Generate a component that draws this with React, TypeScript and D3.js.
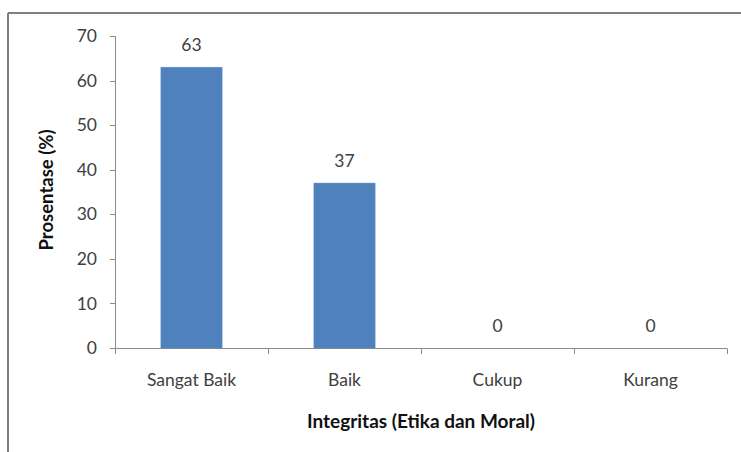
import { useEffect, useRef } from "react"
import * as d3 from "d3"

const categories = ["Sangat Baik", "Baik", "Cukup", "Kurang"]
const values = [63, 37, 0, 0]
const yTicks = [0, 10, 20, 30, 40, 50, 60, 70]

const W = 741
const H = 452
const FONT = "Lato, 'Open Sans', sans-serif"

const App = () => {
  const ref = useRef<SVGSVGElement>(null)

  useEffect(() => {
    if (!ref.current) return
    const svg = d3.select(ref.current)
    svg.selectAll("*").remove()

    // chart frame (top and left edges visible)
    svg.append("line").attr("x1", 8).attr("x2", W).attr("y1", 13).attr("y2", 13)
      .attr("stroke", "#7f7f7f").attr("stroke-width", 2)
    svg.append("line").attr("x1", 8).attr("x2", 8).attr("y1", 13).attr("y2", H)
      .attr("stroke", "#7f7f7f").attr("stroke-width", 2)

    const x = d3.scaleBand().domain(categories).range([115, 727]).paddingInner(0).paddingOuter(0)
    const y = d3.scaleLinear().domain([0, 70]).range([348, 36])

    const axisColor = "#898989"
    const textColor = "#404040"
    const fs = 17.5

    // y axis
    svg.append("line").attr("x1", 115.5).attr("x2", 115.5).attr("y1", y(70)).attr("y2", y(0))
      .attr("stroke", axisColor)
    const yt = svg.append("g")
    yTicks.forEach((t) => {
      yt.append("line").attr("x1", 110).attr("x2", 115.5)
        .attr("y1", Math.round(y(t)) + 0.5).attr("y2", Math.round(y(t)) + 0.5)
        .attr("stroke", axisColor)
      yt.append("text").attr("x", 97).attr("y", y(t)).attr("dy", "0.35em")
        .attr("text-anchor", "end").attr("font-family", FONT).attr("font-size", fs)
        .attr("fill", textColor).text(String(t))
    })

    // x axis
    svg.append("line").attr("x1", 115).attr("x2", 727).attr("y1", 348.5).attr("y2", 348.5)
      .attr("stroke", axisColor)
    const bounds = categories.map((c) => x(c) as number).concat([727])
    bounds.forEach((b) => {
      svg.append("line").attr("x1", b + 0.5).attr("x2", b + 0.5).attr("y1", 348.5).attr("y2", 354)
        .attr("stroke", axisColor)
    })

    const barW = x.bandwidth() * 0.4
    categories.forEach((c, i) => {
      const cx = (x(c) as number) + x.bandwidth() / 2
      if (values[i] > 0) {
        svg.append("rect").attr("x", cx - barW / 2).attr("y", y(values[i]))
          .attr("width", barW).attr("height", y(0) - y(values[i]))
          .attr("fill", "#4f81bd").attr("stroke", "#5b8cc7").attr("stroke-width", 0.5)
      }
      svg.append("text").attr("x", cx).attr("y", y(values[i]) - 22).attr("dy", "0.35em")
        .attr("text-anchor", "middle").attr("font-family", FONT).attr("font-size", fs)
        .attr("fill", textColor).text(String(values[i]))
      svg.append("text").attr("x", cx).attr("y", 380).attr("dy", "0.35em")
        .attr("text-anchor", "middle").attr("font-family", FONT).attr("font-size", fs)
        .attr("fill", textColor).text(c)
    })

    svg.append("text").attr("x", 421).attr("y", 421).attr("dy", "0.35em").attr("text-anchor", "middle")
      .attr("font-family", FONT).attr("font-size", 19).attr("font-weight", "bold")
      .attr("fill", "#111").text("Integritas (Etika dan Moral)")
    svg.append("text").attr("transform", "translate(47,190) rotate(-90)").attr("dy", "0.35em")
      .attr("text-anchor", "middle").attr("font-family", FONT).attr("font-size", 18.5)
      .attr("font-weight", "bold").attr("fill", "#111").text("Prosentase (%)")
  }, [])

  return (
    <svg ref={ref} width={W} height={H}
      style={{ position: "absolute", left: 0, top: 0, background: "#fff", display: "block" }} />
  )
}

export default App
